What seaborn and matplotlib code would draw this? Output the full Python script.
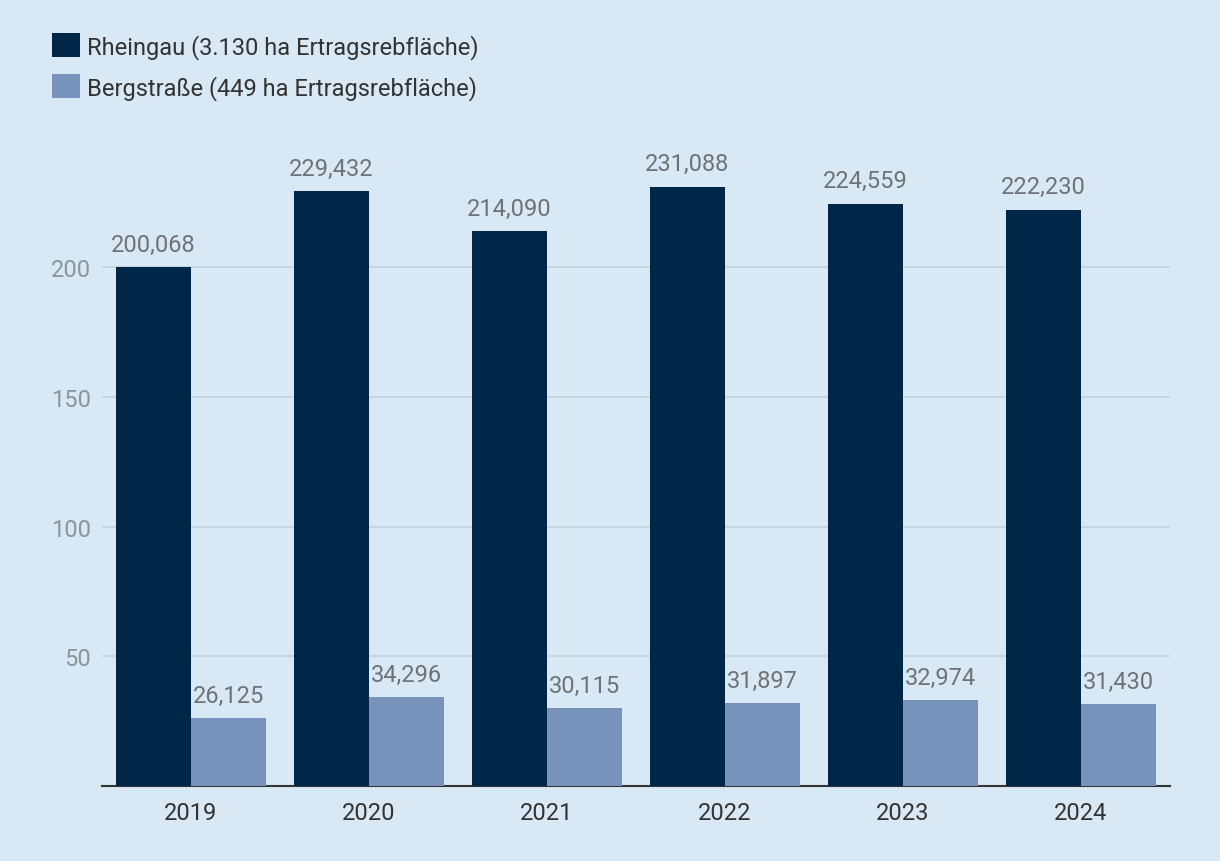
import pandas as pd
import matplotlib.pyplot as plt
import seaborn as sns
from matplotlib.patches import Patch

# Data: Weinmosternte in 1.000 hl
years = ["2019", "2020", "2021", "2022", "2023", "2024"]
rheingau = [200.068, 229.432, 214.090, 231.088, 224.559, 222.230]
bergstrasse = [26.125, 34.296, 30.115, 31.897, 32.974, 31.430]
series = ["Rheingau (3.130 ha Ertragsrebfläche)", "Bergstraße (449 ha Ertragsrebfläche)"]
colors = ["#002648", "#7893bb"]
bg = "#d8e8f4"

df = pd.DataFrame({
    "year": years * 2,
    "value": rheingau + bergstrasse,
    "region": [series[0]] * len(years) + [series[1]] * len(years),
})

sns.set_theme(style="white")
plt.rcParams["font.family"] = ["Roboto", "DejaVu Sans"]

fig = plt.figure(figsize=(12.2, 8.62), dpi=100, facecolor=bg)
ax = fig.add_axes([0.0836, 0.087, 0.8754, 0.7523])
ax.set_facecolor(bg)

sns.barplot(data=df, x="year", y="value", hue="region", palette=colors,
            width=0.843, saturation=1, linewidth=0, ax=ax, legend=False, zorder=3)

# Value labels with German decimal comma
for cont in ax.containers:
    labels = [f"{b.get_height():.3f}".replace(".", ",") for b in cont]
    ax.bar_label(cont, labels=labels, padding=8, fontsize=17, color="#6e7378")

ax.set_ylim(0, 250)
ax.set_xlim(-0.5, 5.5)
ax.set_yticks([50, 100, 150, 200])
ax.yaxis.grid(True, color="#c3d2df", linewidth=1.2, zorder=0)
ax.set_axisbelow(True)
ax.tick_params(axis="y", length=0, pad=8, labelsize=17, labelcolor="#8c959c")
ax.tick_params(axis="x", length=0, pad=11, labelsize=17, labelcolor="#333333")
ax.set_xlabel("")
ax.set_ylabel("")
for side in ["top", "right", "left"]:
    ax.spines[side].set_visible(False)
ax.spines["bottom"].set_color("#333333")
ax.spines["bottom"].set_linewidth(1.5)

handles = [Patch(facecolor=c, edgecolor="none") for c in colors]
fig.legend(handles, series, loc="upper left", bbox_to_anchor=(0.025, 0.985),
           frameon=False, fontsize=17, handlelength=1.2, handleheight=1.2,
           handletextpad=0.3, labelspacing=0.65, labelcolor="#333333")

fig.savefig("out.png", dpi=100, facecolor=bg)
